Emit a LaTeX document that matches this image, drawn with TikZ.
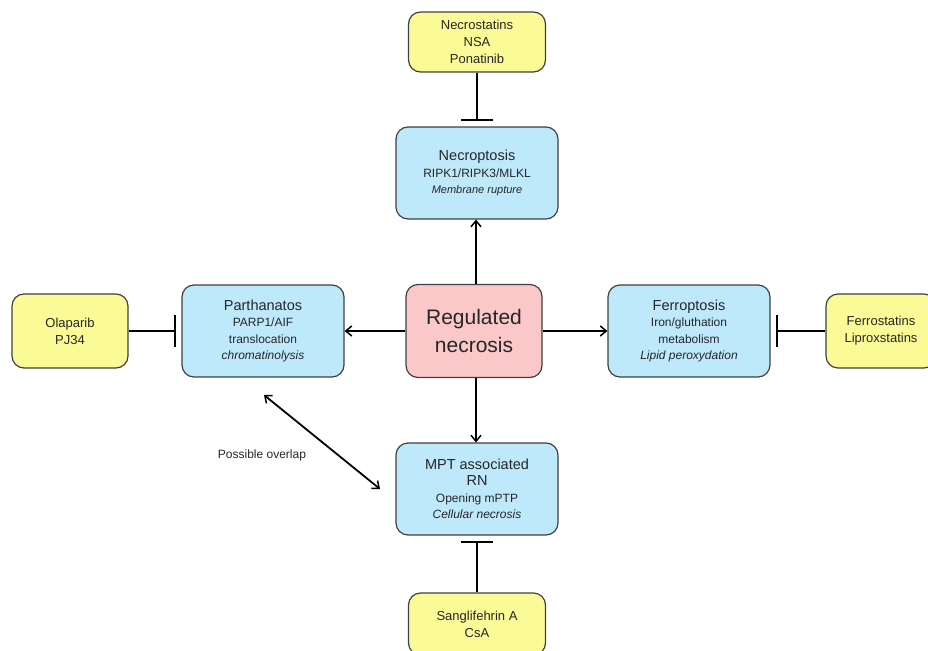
\documentclass[tikz,border=0pt]{standalone}
\usepackage{fontspec}
\setmainfont{Liberation Sans}
\usetikzlibrary{arrows.meta}
\definecolor{drugyellow}{RGB}{250,250,150}
\definecolor{pathblue}{RGB}{190,233,251}
\definecolor{corepink}{RGB}{250,200,200}
\definecolor{edgegray}{RGB}{64,64,64}
\newcommand{\sz}[2]{\fontsize{#1}{#2}\selectfont}
\tikzset{
  box/.style={draw=edgegray,line width=1.2pt,rounded corners=12pt,align=center,inner sep=0pt,text=black!85},
  path box/.style={box,fill=pathblue,minimum width=162pt,minimum height=92pt,font=\sz{12}{16.5}},
  drug box/.style={box,fill=drugyellow,font=\sz{13}{17}},
  barb/.tip={Straight Barb[length=6pt,width=10pt,line width=1.5pt]},
  act/.style={line width=1.8pt,-barb},
  inhib/.style={line width=1.8pt,-{Bar[width=32pt,line width=2pt]},shorten >=5pt}
}
\begin{document}
\begin{tikzpicture}[x=1pt,y=-1pt]
		\useasboundingbox (0,0) rectangle (928,650);
		\clip (0,0) rectangle (928,650);
		\node[box,fill=corepink,minimum width=136pt,minimum height=93pt,font=\sz{21}{28}] at (474,331) (a) {Regulated\\necrosis};
		\node[path box] at (477,173) (b) {{\sz{14.5}{16.5}Necroptosis}\\RIPK1/RIPK3/MLKL\\{\sz{11}{16.5}\itshape Membrane rupture}};
		\node[path box] at (263,331) (c) {{\sz{14.5}{16.5}Parthanatos}\\PARP1/AIF\\translocation\\{\itshape chromatinolysis}};
		\node[path box] at (689,331) (d) {{\sz{14.5}{16.5}Ferroptosis}\\Iron/gluthation\\metabolism\\{\itshape Lipid peroxydation}};
		\node[path box] at (477,489) (e) {{\sz{14.5}{17.5}MPT associated}\\{\sz{14.5}{17.5}RN}\\Opening mPTP\\{\itshape Cellular necrosis}};
		\node[drug box,minimum width=137pt,minimum height=60pt] at (477,42) (f) {Necrostatins\\NSA\\Ponatinib};
		\node[drug box,minimum width=116pt,minimum height=74pt] at (70,331) (g) {Olaparib\\PJ34};
		\node[drug box,minimum width=110pt,minimum height=74pt] at (881,331) (h) {Ferrostatins\\Liproxstatins};
		\node[drug box,minimum width=137pt,minimum height=62pt] at (477,624) (i) {Sanglifehrin A\\CsA};
		\node[font=\sz{12}{14},text=black!85] at (262,455) (j) {Possible overlap};
		\coordinate (k) at (264,395);
		\coordinate (l) at (380,489);
		
		\draw[act] (a.north -| 476,0) -- (b.south -| 476,0);
		\draw[act] (a.west) -- (c.east);
		\draw[act] (a.east) -- (d.west);
		\draw[act] (a.south -| 476,0) -- (e.north -| 476,0);
		
		\draw[inhib] (f) -- (b);
		\draw[inhib] (g) -- (c);
		\draw[inhib] (h) -- (d);
		\draw[inhib] (i) -- (e);
		
		\draw[line width=1.8pt,barb-barb] (k) -- (l);
	\end{tikzpicture}
\end{document}
